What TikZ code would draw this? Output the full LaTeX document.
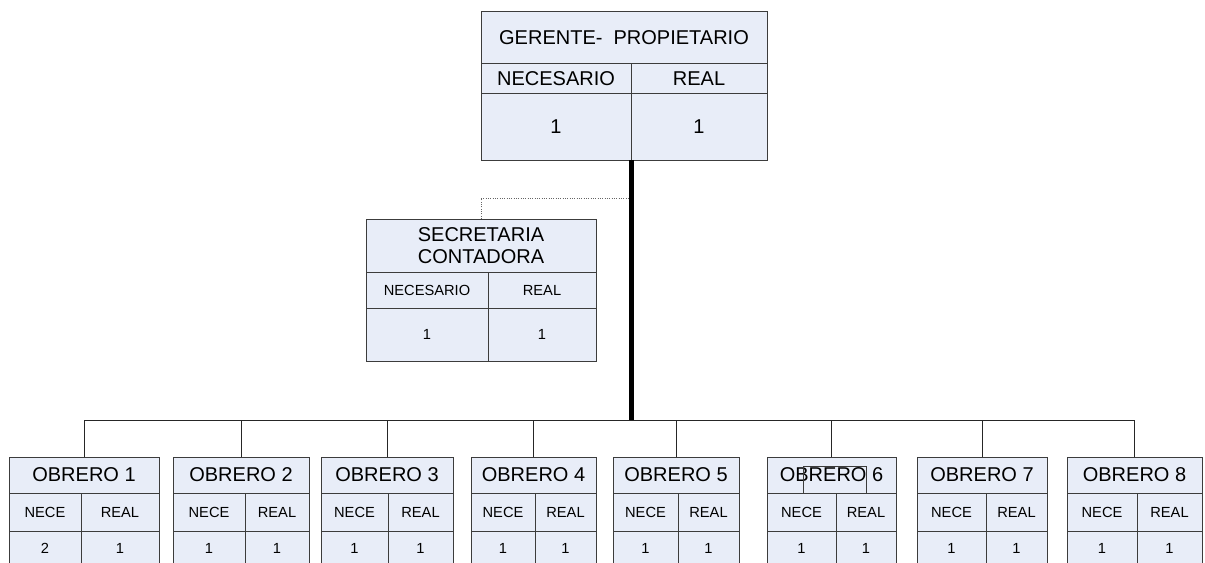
\documentclass[tikz,border=0pt]{standalone}
\usepackage{fontspec}
\setmainfont{Liberation Sans}
\usetikzlibrary{calc}
\definecolor{boxfill}{RGB}{232,237,248}
\definecolor{boxline}{RGB}{60,60,60}
\tikzset{
  % Celdas de los cuadros
  cell/.style     = {draw=boxline, fill=boxfill, line width=0.75pt, inner sep=0pt,
                     outer sep=0pt, anchor=north west, align=center},
  bigtxt/.style   = {font=\fontsize{15}{16}\selectfont},
  smalltxt/.style = {font=\fontsize{11}{13}\selectfont},
  % Conectores
  link/.style     = {draw=black!85, line width=0.75pt},
  trunk/.style    = {draw=black, line width=3.75pt},
  dotlink/.style  = {draw=black!60, densely dotted, line width=0.75pt},
}
% \celda{nombre}{izq}{arriba}{der}{abajo}{estilo}{texto}
\newcommand{\celda}[7]{%
  \node[cell, #6, minimum width={(#4-#2)*0.75pt}, minimum height={(#5-#3)*0.75pt}]
    (#1) at (#2,#3) {#7};}

\begin{document}
\begin{tikzpicture}[x=0.75pt, y=-0.75pt]
  \useasboundingbox (0,0) rectangle (1205,563);
  \clip (0,0) rectangle (1205,563);
  % Gerente
  \celda{ger}{481}{12}{767}{64}{bigtxt}{GERENTE-\ \ PROPIETARIO}
  \celda{gern}{481}{64}{631}{94}{bigtxt}{NECESARIO}
  \celda{gerr}{631}{64}{767}{94}{bigtxt}{REAL}
  \celda{gervn}{481}{94}{631}{160}{bigtxt}{1}
  \celda{gervr}{631}{94}{767}{160}{bigtxt}{1}
  % Secretaria
  \celda{sec}{366}{219}{596}{272}{bigtxt}{SECRETARIA\\CONTADORA}
  \celda{secn}{366}{272}{488}{308}{smalltxt}{NECESARIO}
  \celda{secr}{488}{272}{596}{308}{smalltxt}{REAL}
  \celda{secvn}{366}{308}{488}{361}{smalltxt}{1}
  \celda{secvr}{488}{308}{596}{361}{smalltxt}{1}
  % Obreros
  \foreach \i/\l/\r/\s/\n in {1/9/159/81/2, 2/173/309/245/1, 3/321/453/388/1,
      4/471/596/535/1, 5/613/739/678/1, 6/767/896/836/1, 7/917/1047/986/1,
      8/1067/1202/1137/1} {
    \celda{ob\i}{\l}{457}{\r}{493}{bigtxt}{OBRERO \i}
    \celda{ob\i n}{\l}{493}{\s}{531}{smalltxt}{NECE}
    \celda{ob\i r}{\s}{493}{\r}{531}{smalltxt}{REAL}
    \celda{ob\i vn}{\l}{531}{\s}{566}{smalltxt}{\n}
    \celda{ob\i vr}{\s}{531}{\r}{566}{smalltxt}{1}
  }
  % Conectores
  \coordinate (bus) at (631,420);
  \coordinate (secjoin) at (631,198);
  \draw[dotlink] (sec.north) |- (secjoin);
  \draw[link] (ob1.north |- bus) -- (ob8.north |- bus);
  \foreach \i in {1,...,8}
    \draw[link] (ob\i.north) -- (ob\i.north |- bus);
  \draw[trunk] (gervr.south west) -- (bus);
  % Trazo suelto sobre OBRERO 6
  \draw[boxline, line width=0.75pt] (803,493) |- (866,466) -- (866,493);
\end{tikzpicture}
\end{document}
